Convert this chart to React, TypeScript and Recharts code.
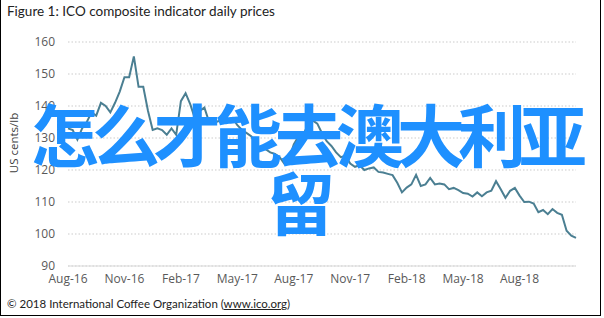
import { LineChart, Line, XAxis, YAxis, CartesianGrid } from 'recharts'

// ICO composite indicator, one reading per week from Aug-16
const prices = [
  133, 132.5, 129.5, 133, 135, 138, 137, 141, 140, 138,
  141, 144.5, 149, 149, 155.5, 146, 146, 138.5, 132.5, 133,
  132.5, 131, 133, 131, 141.5, 144, 140.5, 136, 138.5, 139.5,
  135, 134.7, 135.3, 134.7, 135.8, 136.3, 134, 132.5, 131.5, 130.5,
  127.5, 127, 126.5, 125.5, 125, 124, 122, 123.5, 128, 130.5,
  131, 134, 135.5, 134.5, 131.5, 129, 127.5, 125.5, 124, 124.5,
  122, 121, 121.5, 120, 120.5, 120.8, 119.4, 119.2, 118.8, 118.4,
  116, 113, 114.5, 115.5, 118.5, 115, 115.5, 117.5, 115.5, 115.8,
  115.5, 114, 114.4, 113.7, 112.8, 112.6, 111.7, 113, 111.8, 113,
  113.5, 116.5, 114, 111.3, 113.5, 114.4, 112, 110, 110.1, 109.5,
  106.8, 107.5, 106.2, 107.8, 106.6, 106, 101, 99.5, 98.8,
]

const monthLabels = ['Aug-16', 'Nov-16', 'Feb-17', 'May-17', 'Aug-17', 'Nov-17', 'Feb-18', 'May-18', 'Aug-18']
const labelWeeks = [0, 12, 24, 36, 48, 60, 72, 84, 96]
const yTicks = [90, 100, 110, 120, 130, 140, 150, 160]

const data = prices.map((price, week) => ({ week, price }))

const tickFont = { fontSize: 12, fill: '#595959', fontFamily: 'Open Sans' }

export default function App() {
  return (
    <div style={{ position: 'absolute', left: 0, top: 0, width: 604, height: 318, background: '#fff', fontFamily: 'Lato' }}>
      <LineChart width={604} height={318} data={data} margin={{ top: 42, right: 28, left: 28, bottom: 22 }}>
        <CartesianGrid vertical={false} stroke="#cccccc" strokeDasharray="1.5 2" strokeWidth={1.2} />
        <XAxis
          dataKey="week"
          type="number"
          domain={[0, prices.length - 1]}
          ticks={labelWeeks}
          tickFormatter={(w) => monthLabels[labelWeeks.indexOf(w)] ?? ''}
          tickLine={false}
          axisLine={{ stroke: '#d9d9d9' }}
          tick={tickFont}
          interval={0}
        />
        <YAxis
          domain={[90, 160]}
          ticks={yTicks}
          width={40}
          axisLine={false}
          tickLine={false}
          tickMargin={7}
          tick={tickFont}
        />
        <Line
          dataKey="price"
          stroke="#4b7f92"
          strokeWidth={2}
          dot={false}
          isAnimationActive={false}
        />
      </LineChart>

      <div style={{ position: 'absolute', left: 7, top: 3, fontSize: 13.5, color: '#222' }}>
        Figure 1: ICO composite indicator daily prices
      </div>
      <div
        style={{
          position: 'absolute', left: 13, top: 143, transform: 'translate(-50%, -50%) rotate(-90deg)',
          fontSize: 11.5, color: '#404040', whiteSpace: 'nowrap', fontFamily: 'Open Sans',
        }}
      >
        US cents/lb
      </div>
      <div style={{ position: 'absolute', left: 7, top: 297, fontSize: 11.5, color: '#222' }}>
        © 2018 International Coffee Organization (<span style={{ textDecoration: 'underline' }}>www.ico.org</span>)
      </div>

      <div
        style={{
          position: 'absolute', left: 31, top: 99, width: 580, whiteSpace: 'nowrap',
          fontSize: 68, lineHeight: '68px', letterSpacing: -7, color: '#1e90ff', fontWeight: 700,
          fontFamily: '"Noto Sans CJK SC"',
        }}
      >
        怎么才能去澳大利亚
        <br />
        <span style={{ marginLeft: 236 }}>留</span>
      </div>

      <div style={{ position: 'absolute', left: 0, top: 0, width: 601, height: 316, borderLeft: '1.5px solid #000', borderRight: '1.5px solid #000', borderBottom: '1.5px solid #000', boxSizing: 'border-box', pointerEvents: 'none' }} />
    </div>
  )
}
